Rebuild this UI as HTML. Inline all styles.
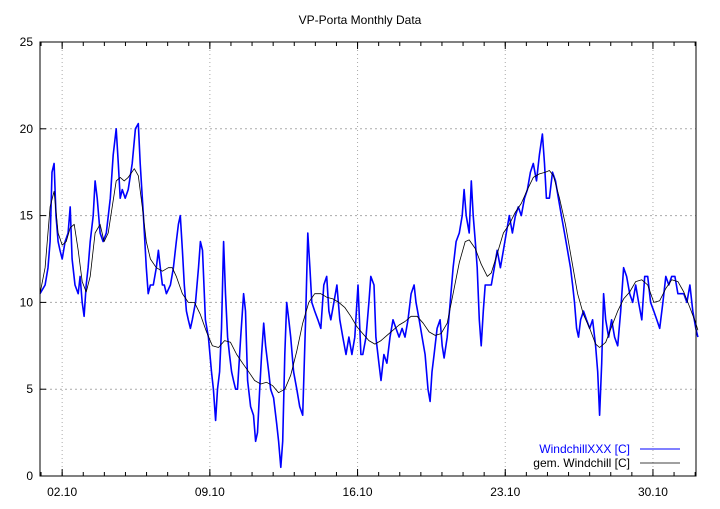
<!DOCTYPE html>
<html><head><meta charset="utf-8"><style>
body{margin:0;background:#fff;}
svg text{font-family:"Liberation Sans",sans-serif;font-size:12px;fill:#000;}
</style></head><body>
<svg id="chart" width="720" height="504" xmlns="http://www.w3.org/2000/svg">
<rect width="720" height="504" fill="#fff"/>
<text x="360" y="24" text-anchor="middle">VP-Porta Monthly Data</text>
<g id="grid"></g>
<g id="ticks"></g>
<g id="series"></g>
<rect x="40" y="42" width="656" height="434" fill="none" stroke="#000" stroke-width="1"/>
<g>
<text x="630" y="453" text-anchor="end" style="fill:#0000ff">WindchillXXX [C]</text>
<line x1="640" y1="449" x2="680" y2="449" stroke="#0000ff" stroke-width="1"/>
<text x="630" y="467" text-anchor="end">gem. Windchill [C]</text>
<line x1="640" y1="463" x2="680" y2="463" stroke="#000" stroke-width="0.8"/>
</g>
</svg>
<script>
const xTickLabels=["02.10","09.10","16.10","23.10","30.10"];
const xTickDays=[1.05,8.05,15.05,22.05,29.05];
const yTicks=[0,5,10,15,20,25];
const wcDays=[0,.24,.38,.48,.57,.67,.76,.86,.95,1.05,
1.19,1.33,1.43,1.52,1.66,1.81,1.90,2.00,2.09,2.19,
2.28,2.38,2.52,2.61,2.71,2.85,2.99,3.14,3.33,3.47,
3.61,3.71,3.80,3.90,4.04,4.18,4.37,4.52,4.66,4.75,
4.90,5.04,5.13,5.23,5.37,5.51,5.61,5.70,5.80,5.89,
5.99,6.18,6.32,6.46,6.56,6.65,6.75,6.84,6.94,7.03,
7.13,7.22,7.37,7.51,7.60,7.70,7.84,7.98,8.13,8.22,
8.32,8.41,8.51,8.60,8.70,8.79,8.89,8.98,9.08,9.17,
9.27,9.36,9.51,9.65,9.74,9.84,9.98,10.12,10.22,10.31,
10.41,10.50,10.60,10.69,10.84,10.93,11.07,11.22,11.31,11.41,
11.50,11.60,11.69,11.79,11.88,12.02,12.17,12.31,12.45,12.59,
12.69,12.79,12.88,13.02,13.17,13.31,13.45,13.59,13.69,13.78,
13.93,14.07,14.21,14.35,14.50,14.64,14.78,14.92,15.07,15.21,
15.30,15.45,15.59,15.68,15.83,15.92,16.06,16.16,16.30,16.44,
16.59,16.73,16.87,17.02,17.16,17.30,17.44,17.59,17.73,17.82,
17.97,18.11,18.25,18.39,18.49,18.58,18.68,18.82,18.96,19.06,
19.15,19.30,19.44,19.58,19.72,19.87,20.01,20.10,20.20,20.34,
20.44,20.53,20.63,20.72,20.82,20.91,21.01,21.10,21.25,21.39,
21.53,21.67,21.82,21.96,22.10,22.24,22.39,22.53,22.67,22.81,
22.96,23.10,23.24,23.38,23.53,23.67,23.81,23.91,24.00,24.14,
24.29,24.43,24.57,24.71,24.86,25.00,25.14,25.24,25.33,25.43,
25.52,25.62,25.76,25.90,26.05,26.19,26.33,26.43,26.52,26.62,
26.71,26.81,26.95,27.09,27.23,27.38,27.52,27.66,27.80,27.95,
28.09,28.23,28.37,28.52,28.66,28.80,28.94,29.09,29.23,29.37,
29.52,29.66,29.80,29.94,30.09,30.23,30.37,30.51,30.66,30.80,
30.94,31.08,31.18];
const wcValues=[10.5,11,12,13.5,17.5,18,15,13.5,13,12.5,
13.5,14,15.5,12.5,11,10.5,11.5,10,9.2,11,
12,13.5,15,17,16,14,13.5,14,16,18.5,
20,18,16,16.5,16,16.5,18,20,20.3,18,
15,12,10.5,11,11,12,13,12,11,11,
10.5,11,12,13.5,14.5,15,13,11,9.5,9,
8.5,9,10,12,13.5,13,9,8,6,5,
3.2,5,6,8.5,13.5,10.5,8,7,6,5.5,
5,5,8,10.5,9.5,5.5,4,3.5,2,2.5,
5,7,8.8,7.5,6,5,4.5,3,2,0.5,
2,7,10,9,8,6,5,4,3.5,9,
14,12,10,9.5,9,8.5,11,11.5,9.5,9,
10,11,9,8,7,8,7,8,11,7,
7,8,10,11.5,11,8,6.5,5.5,7,6.5,
8,9,8.5,8,8.5,8,9,10.5,11,10,
9,8,7,5,4.3,6,7,8.5,9,7.5,
6.8,8,10,12,13.5,14,15,16.5,15,14,
17,15,13.5,12,9,7.5,9.5,11,11,11,
12,13,12,13,14,15,14,15,15.5,15,
16,16.5,17.5,18,17,18.5,19.7,18,16,16,
17.5,17,16,15,14,13,12,11,10,8.5,
8,9,9.5,9,8.5,9,7.5,6,3.5,6.5,
10.5,9,8,9,8,7.5,9.5,12,11.5,10.5,
10,11,10,9,11.5,11.5,10,9.5,9,8.5,
10,11.5,11,11.5,11.5,10.5,10.5,10.5,10,11,
9.5,8.5,8];
const avgDays=[0,.24,.48,.67,.86,1.05,1.24,1.43,1.62,1.81,
2.00,2.19,2.38,2.61,2.85,3.04,3.23,3.42,3.61,3.80,
3.99,4.18,4.47,4.66,4.85,5.04,5.23,5.51,5.80,6.08,
6.27,6.46,6.75,7.03,7.32,7.60,7.89,8.17,8.46,8.75,
9.03,9.32,9.60,9.89,10.17,10.46,10.74,11.03,11.31,11.60,
11.88,12.17,12.45,12.74,13.02,13.31,13.59,13.88,14.16,14.45,
14.73,15.02,15.30,15.59,15.87,16.16,16.44,16.73,17.02,17.30,
17.59,17.87,18.16,18.44,18.73,19.01,19.30,19.58,19.87,20.15,
20.34,20.63,20.91,21.20,21.39,21.67,21.96,22.24,22.53,22.81,
23.10,23.38,23.67,23.95,24.14,24.33,24.62,24.90,25.19,25.48,
25.76,26.05,26.33,26.52,26.81,27.09,27.38,27.66,27.95,28.23,
28.52,28.80,29.09,29.37,29.66,29.94,30.23,30.51,30.80,31.08,31.18];
const avgValues=[10.5,12,15.5,16.4,14,13.3,13.5,14.3,14.5,13,
11.2,10.6,11.5,14,14.5,13.5,14,15.5,17,17.2,
17,17.2,17.7,17.3,15.5,13.5,12.5,12,11.8,12,
12,11.5,10.5,10,10,9.3,8.3,7.5,7.4,7.8,
7.7,7,6.5,6,5.5,5.3,5.4,5.2,4.8,5,
5.8,7.2,8.8,10,10.5,10.5,10.3,10.2,10,9.7,
9.2,8.6,8.2,7.8,7.6,7.8,8.1,8.4,8.7,8.9,
9.2,9.2,8.8,8.3,8.1,8.2,8.8,10.5,12.3,13.5,
13.6,13.1,12.2,11.5,11.7,12.8,14,14.5,15.2,15.7,
16.5,17.2,17.4,17.5,17.6,17.3,16,14.5,12.5,10.5,
9.3,8.5,7.6,7.4,7.7,8.6,9.5,10.2,10.6,11.2,
11.3,11,10,10.1,10.8,11.3,11.2,10.6,9.7,8.8,8.4];

const NS="http://www.w3.org/2000/svg";
const L=40,R=696,T=42,B=476,DAYMAX=31.09,YMAX=25;
function xs(d){return L+d*(R-L)/DAYMAX;}
function ys(v){return B-v*(B-T)/YMAX;}
function mk(tag,attrs,parent){const e=document.createElementNS(NS,tag);for(const k in attrs)e.setAttribute(k,attrs[k]);parent.appendChild(e);return e;}
const grid=document.getElementById('grid'),ticks=document.getElementById('ticks'),series=document.getElementById('series');
yTicks.forEach(v=>{
  const y=ys(v);
  if(v>0&&v<YMAX){const g=mk('line',{x1:L,x2:R,y1:y,y2:y,stroke:'#aaa','stroke-dasharray':'2,3','stroke-width':1},grid);
  
  }
  const t=mk('line',{x1:L,x2:L+6,y1:y,y2:y,stroke:'#000'},ticks);
  
  
  const lb=mk('text',{x:33,y:y+4,'text-anchor':'end'},ticks);lb.textContent=v;
  
  
});
for(let d=xTickDays[0]-1;d<DAYMAX;d+=1){
  if(d<0)continue;const x=xs(d);
  const a=mk('line',{x1:x,x2:x,y1:B,y2:B-4,stroke:'#000'},ticks);
  
  
  const b=mk('line',{x1:x,x2:x,y1:T,y2:T+4,stroke:'#000'},ticks);
  
  
}
xTickDays.forEach((d,i)=>{
  const x=xs(d);
  const g=mk('line',{x1:x,x2:x,y1:T,y2:B,stroke:'#aaa','stroke-dasharray':'1,3','stroke-width':1},grid);
  
  
  const t=mk('line',{x1:x,x2:x,y1:B,y2:B-7,stroke:'#000'},ticks);
  
  
  const t2=mk('line',{x1:x,x2:x,y1:T,y2:T+7,stroke:'#000'},ticks);
  
  
  const lb=mk('text',{x:x,y:496,'text-anchor':'middle'},ticks);lb.textContent=xTickLabels[i];
  
  
});
function pts(ds,vs){return ds.map((d,i)=>xs(d).toFixed(1)+','+ys(vs[i]).toFixed(1)).join(' ');}
const wc=mk('polyline',{points:pts(wcDays,wcValues),fill:'none',stroke:'#0000ff','stroke-width':1.6,'stroke-linejoin':'round'},series);


const av=mk('polyline',{points:pts(avgDays,avgValues),fill:'none',stroke:'#000','stroke-width':0.8,'stroke-linejoin':'round'},series);


</script>
</body></html>
